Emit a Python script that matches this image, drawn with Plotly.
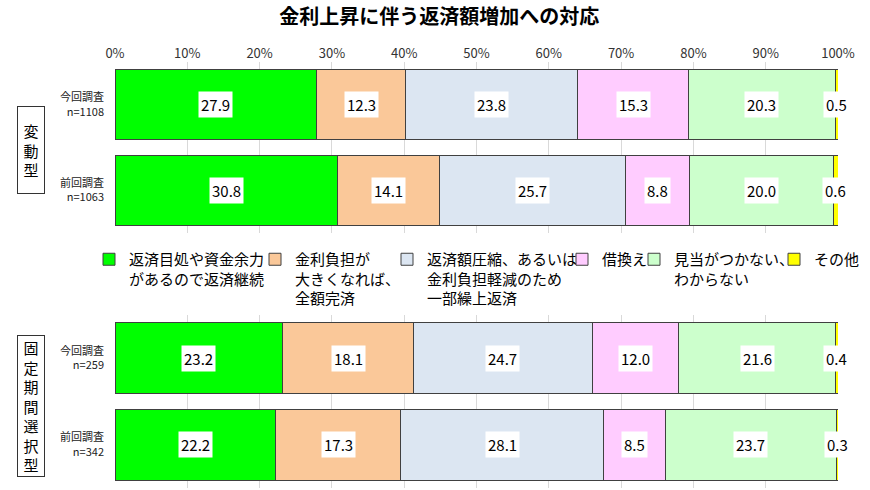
import numpy as np
import plotly.graph_objects as go
from plotly.subplots import make_subplots

title = "金利上昇に伴う返済額増加への対応"
legend_labels = [
    "返済目処や資金余力<br>があるので返済継続",
    "金利負担が<br>大きくなれば、<br>全額完済",
    "返済額圧縮、あるいは<br>金利負担軽減のため<br>一部繰上返済",
    "借換え",
    "見当がつかない、<br>わからない",
    "その他",
]
colors = ["#00FF00", "#FAC899", "#DCE6F2", "#FFCCFF", "#CCFFCC", "#FFFF00"]

group_labels = ["変動型", "固定期間選択型"]
rows_variable = ["今回調査<br>n=1108", "前回調査<br>n=1063"]
rows_fixed = ["今回調査<br>n=259", "前回調査<br>n=342"]

variable_current = [27.9, 12.3, 23.8, 15.3, 20.3, 0.5]
variable_previous = [30.8, 14.1, 25.7, 8.8, 20.0, 0.6]
fixed_current = [23.2, 18.1, 24.7, 12.0, 21.6, 0.4]
fixed_previous = [22.2, 17.3, 28.1, 8.5, 23.7, 0.3]

x_ticks = list(range(0, 101, 10))

# layout helpers (pixels)
W, H = 870, 490
ML, MR, MT, MB = 115, 32, 62, 2
PW, PH = W - ML - MR, H - MT - MB


def py(p):
    return (H - MB - p) / PH


def px(p):
    return (p - ML) / PW


fig = make_subplots(rows=2, cols=1, shared_xaxes=True, vertical_spacing=0.0)

legend_text_x = [129, 295, 427, 602, 674, 814]

panels = [
    (1, "y", rows_variable, [variable_current, variable_previous]),
    (2, "y2", rows_fixed, [fixed_current, fixed_previous]),
]

for row, yref, rows, data in panels:
    arr = np.array(data)
    for i, name in enumerate(legend_labels):
        fig.add_trace(
            go.Bar(
                x=arr[:, i],
                y=rows,
                orientation="h",
                name=name,
                marker=dict(color=colors[i], line=dict(color="#404040", width=1)),
                showlegend=(row == 1),
                legend="legend" if i == 0 else f"legend{i+1}",
                hoverinfo="skip",
            ),
            row=row,
            col=1,
        )
    cum = np.cumsum(arr, axis=1)
    mids = cum - arr / 2
    for r, rlabel in enumerate(rows):
        for i in range(arr.shape[1]):
            fig.add_annotation(
                x=mids[r, i],
                y=rlabel,
                xref="x" if row == 1 else "x2",
                yref=yref,
                text=f"{arr[r, i]:.1f}",
                showarrow=False,
                bgcolor="white",
                borderpad=2,
                font=dict(size=15, color="black", family="Noto Sans CJK JP"),
            )

fig.update_layout(
    width=W,
    height=H,
    barmode="stack",
    bargap=0.18,
    plot_bgcolor="white",
    paper_bgcolor="white",
    margin=dict(l=ML, r=MR, t=MT, b=MB, autoexpand=False),
    font=dict(family="Noto Sans CJK JP", color="black"),
    title=dict(
        text=f"<b>{title}</b>",
        x=0.505,
        xanchor="center",
        y=1 - 17 / H,
        yanchor="middle",
        font=dict(size=20, color="black"),
    ),
)

fig.update_yaxes(domain=[py(233), 1.0], row=1, col=1)
fig.update_yaxes(domain=[0.0, py(315)], row=2, col=1)
fig.update_yaxes(
    autorange="reversed",
    showgrid=False,
    ticks="",
    tickfont=dict(size=11, color="#222"),
    showline=False,
    automargin=False,
    ticklabelstandoff=10,
)

fig.update_xaxes(
    range=[0, 100],
    tickvals=x_ticks,
    ticktext=[f"{t}%" for t in x_ticks],
    showgrid=True,
    gridcolor="#D9D9D9",
    gridwidth=1,
    zeroline=False,
    showline=False,
    ticks="",
    automargin=False,
    tickfont=dict(size=13, color="#333"),
)
fig.update_xaxes(side="top", showticklabels=True, row=1, col=1)
fig.update_xaxes(showticklabels=False, row=2, col=1)

legend_common = dict(
    orientation="v",
    yanchor="top",
    xanchor="left",
    y=py(243),
    bgcolor="rgba(0,0,0,0)",
    font=dict(size=15, color="black"),
    valign="top",
    itemwidth=30,
    itemclick=False,
    itemdoubleclick=False,
)
legends = {}
for i, tx in enumerate(legend_text_x):
    key = "legend" if i == 0 else f"legend{i+1}"
    legends[key] = dict(legend_common, x=px(tx - 40))
fig.update_layout(**legends)

# group label boxes
group_boxes = [(150, 84), (406, 138)]
for label, (cy, h) in zip(group_labels, group_boxes):
    fig.add_annotation(
        x=px(31),
        y=py(cy),
        xref="paper",
        yref="paper",
        xanchor="center",
        yanchor="middle",
        text="<br>".join(list(label)),
        showarrow=False,
        bordercolor="#333",
        borderwidth=1,
        bgcolor="white",
        width=24,
        height=h,
        font=dict(size=15, color="black"),
    )

fig.write_html(
    "out.html",
    config={"displayModeBar": False},
    post_script="document.body.style.margin='0';",
)
